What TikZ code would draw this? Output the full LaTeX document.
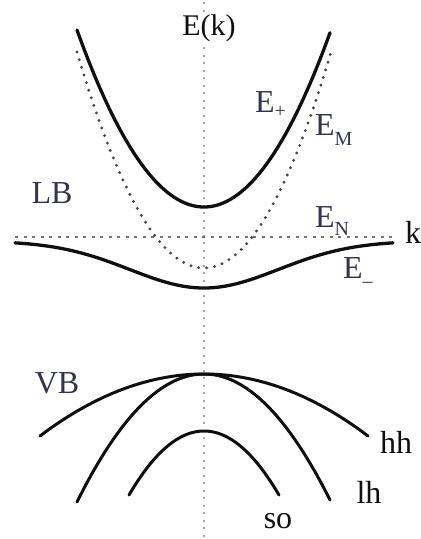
\documentclass[tikz,border=0pt]{standalone}
\usepackage{fontspec}
\setmainfont{Liberation Serif}
\definecolor{navy}{RGB}{50,50,82}
\definecolor{inkc}{RGB}{15,15,15}
\newcommand\lowsub[2]{\raisebox{#1}{\fontsize{20}{22}\selectfont #2}}
\begin{document}
\begin{tikzpicture}[x=1pt,y=-1pt,
  band/.style={line width=3.3pt, inkc, line cap=round},
  vband/.style={line width=3pt, inkc, line cap=round},
  mdots/.style={line width=3.2pt, black!72, line cap=round, dash pattern=on 0pt off 8pt},
  vaxis/.style={line width=2pt, black!35, dash pattern=on 2pt off 5.5pt},
  haxis/.style={line width=1.8pt, black!55, dash pattern=on 3pt off 5.5pt},
  lbl/.style={inner sep=0pt, font=\fontsize{32}{36}\selectfont},
  nlbl/.style={lbl, text=navy},
  klbl/.style={lbl, text=inkc}]
\useasboundingbox (0,0) rectangle (421,539);
% axes
\coordinate (atop) at (204,2);
\coordinate (abot) at (204,539);
\coordinate (hl) at (15,237);
\coordinate (hr) at (393,237);
\draw[vaxis] (atop) -- (abot);
\draw[haxis] (hl) -- (hr);
% conduction-like bands
\draw[mdots] plot[domain=-127:127, samples=120] ({204+\x},{268-216*(\x/127)*(\x/127)});
\draw[band] plot[domain=-127:126, samples=120] ({204+\x},{207-177*(\x/127)*(\x/127)});
\draw[band] plot[domain=-189:189, samples=150] ({204+\x},{241+47*exp(-(\x/105)*(\x/105))});
% valence bands
\draw[vband] plot[domain=-164:164, samples=120] ({204+\x},{374+62*(\x/164)*(\x/164)});
\draw[vband] plot[domain=-127:126, samples=120] ({204+\x},{374+128*(\x/127)*(\x/127)});
\draw[vband] plot[domain=-75:75, samples=100] ({204+\x},{431+64*(\x/75)*(\x/75)});
% labels
\node[klbl, fill=white, inner sep=1pt, anchor=base, font=\fontsize{30}{34}\selectfont] (ek) at (209,35) {E(k)};
\node[klbl, anchor=base west] (kl) at (405,243) {k};
\node[nlbl, anchor=base] (lb) at (52,203) {LB};
\node[nlbl, anchor=base] (vb) at (57,393) {VB};
\node[nlbl, anchor=base west] (ep) at (255,112) {E\lowsub{-5pt}{+}};
\node[nlbl, anchor=base west] (em) at (315,135) {E\lowsub{-10pt}{M}};
\node[nlbl, anchor=base west] (en) at (315,227) {E\lowsub{-8pt}{N}};
\node[nlbl, anchor=base west] (emi) at (343,278) {E\lowsub{-9pt}{–}};
\node[klbl, anchor=base] (hh) at (396,453) {hh};
\node[klbl, anchor=base] (lh) at (369,503) {lh};
\node[klbl, anchor=base] (so) at (278,528) {so};
\end{tikzpicture}
\end{document}
